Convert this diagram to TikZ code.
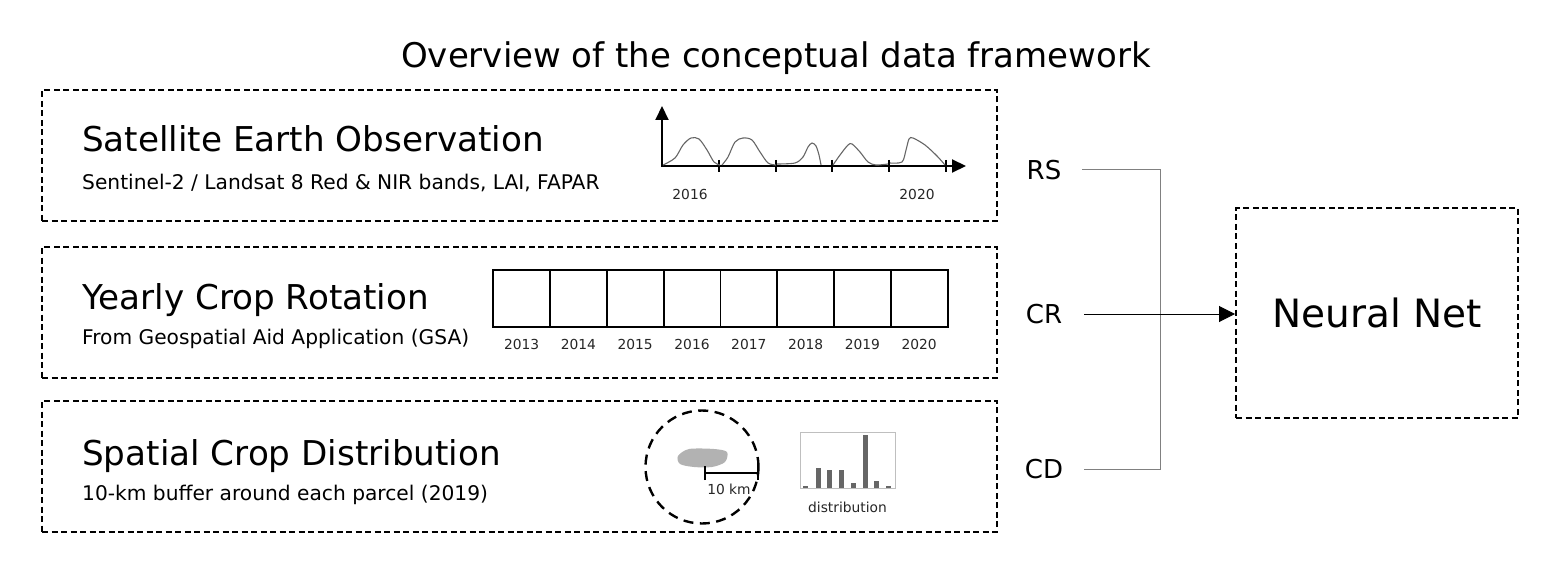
\documentclass[tikz,border=0pt]{standalone}
\usepackage{fontspec}
\setmainfont{DejaVu Sans}
\usetikzlibrary{arrows.meta,positioning,calc}

\begin{document}
\begin{tikzpicture}[
    x=1pt, y=-1pt,
    panel/.style={draw, line width=2pt, dash pattern=on 6pt off 3.5pt,
                  minimum width=955pt, minimum height=131pt, inner sep=0pt},
    head/.style={anchor=base west, inner sep=0pt, font=\fontsize{34.2}{40}\selectfont},
    sub/.style={anchor=base west, inner sep=0pt, font=\fontsize{20.2}{24}\selectfont},
    yr/.style={inner sep=0pt, font=\fontsize{13.8}{16}\selectfont, text=black!85},
    cell/.style={draw, line width=1.8pt, minimum width=56.8pt, minimum height=57pt,
                 anchor=north west, inner sep=0pt},
    axis/.style={line width=2pt, -{Triangle[length=14pt,width=13pt]}},
    signal/.style={draw=black!60, line width=1.1pt},
    tag/.style={inner sep=0pt, font=\fontsize{26}{30}\selectfont},
    link/.style={draw=black!50, line width=1pt},
    feed/.style={line width=1pt, -{Triangle[length=16pt,width=16pt]}}
]
\useasboundingbox (0,0) rectangle (1566,588);

\node[anchor=base, inner sep=0pt, font=\fontsize{34}{40}\selectfont] (title)
    at (776,68) {Overview of the conceptual data framework};

% the three input panels
\node[panel] (sat)  at (519.5,155.5) {};
\node[panel] (crop) at (519.5,312)   {};
\node[panel] (dist) at (519.5,466)   {};

\node[head] (satT)  at (82,152) {Satellite Earth Observation};
\node[sub]  (satS)  at (82,190) {Sentinel-2 / Landsat 8 Red \& NIR bands, LAI, FAPAR};
\node[head] (cropT) at (82,309) {Yearly Crop Rotation};
\node[sub]  (cropS) at (82,344) {From Geospatial Aid Application (GSA)};
\node[head] (distT) at (82,465) {Spatial Crop Distribution};
\node[sub]  (distS) at (82,500) {10-km buffer around each parcel (2019)};

% time series sketch
\draw[axis] (662,166) -- (662,106);
\draw[axis] (661,166) -- (966,166);
\foreach \t in {719,776,832,889,946}{
    \draw[line width=2pt] (\t,160) -- (\t,172);
}
\draw[signal] plot[smooth] coordinates {(663,165) (675,158) (683,145) (691,138)
    (699,139) (707,150) (714,162) (720,165)};
\draw[signal] plot[smooth] coordinates {(722,165) (728,157) (735,142) (743,138)
    (752,140) (760,152) (768,163) (776,165)};
\draw[signal] plot[smooth] coordinates {(777,164) (795,163) (803,157) (808,147)
    (812,143) (816,146) (819,155) (821,165)};
\draw[signal] plot[smooth] coordinates {(833,165) (840,155) (848,145) (852,144)
    (860,152) (868,162) (876,165) (888,164)};
\draw[signal] plot[smooth] coordinates {(890,163) (902,162) (906,150) (909,139)
    (913,138) (925,145) (937,156) (945,165)};
\node[yr] (y16) at (690,194) {2016};
\node[yr] (y20) at (917,194) {2020};

% crop rotation cells
\foreach \i/\yr in {0/2013,1/2014,2/2015,3/2016,4/2017,5/2018,6/2019,7/2020}{
    \node[cell] (c\i) at ({492.3+\i*56.8},269) {};
    \node[yr, below=11pt of c\i] (l\i) {\yr};
}

% buffer and distribution
\node[circle, draw, line width=2.4pt, dash pattern=on 10pt off 6.5pt,
      minimum size=113pt] (buf) at (702,467) {};
\fill[black!30] plot[smooth cycle] coordinates {(678,456) (689,449) (714,449)
    (727,452) (725,462) (712,467) (694,467) (680,464)};
\draw[line width=2pt, {Bar[width=14pt]}-{Bar[width=14pt]}] (704,473) -- (759,473);
\node[yr] (km) at (729,489) {10 km};

\node[draw=black!25, line width=0.7pt, minimum width=95pt, minimum height=56pt,
      inner sep=0pt] (hist) at (847.5,460) {};
\foreach \x/\h in {805.7/486,818.3/468,829.7/470,841/470,853.3/482.5,865/435,876.7/480.5,888/486}{
    \fill[black!60] (\x-2.5,488) rectangle (\x+2.5,\h);
}
\node[yr, below=13pt of hist] (histL) {distribution};

% network
\node[draw, line width=2pt, dash pattern=on 6pt off 3.5pt, minimum width=282pt,
      minimum height=209pt, font=\fontsize{39}{46}\selectfont] (nn)
    at (1377,313) {Neural Net};

\node[tag] (rs) at (1044,170) {RS};
\node[tag] (cr) at (1044,314) {CR};
\node[tag] (cd) at (1044,469) {CD};

\coordinate (join) at (1160,314);
\draw[link] ([xshift=21pt]rs.east) -| (join) |- ([xshift=21pt]cd.east);
\draw[feed] ([xshift=22pt]cr.east) -- (cr.east -| nn.west);

\end{tikzpicture}
\end{document}
